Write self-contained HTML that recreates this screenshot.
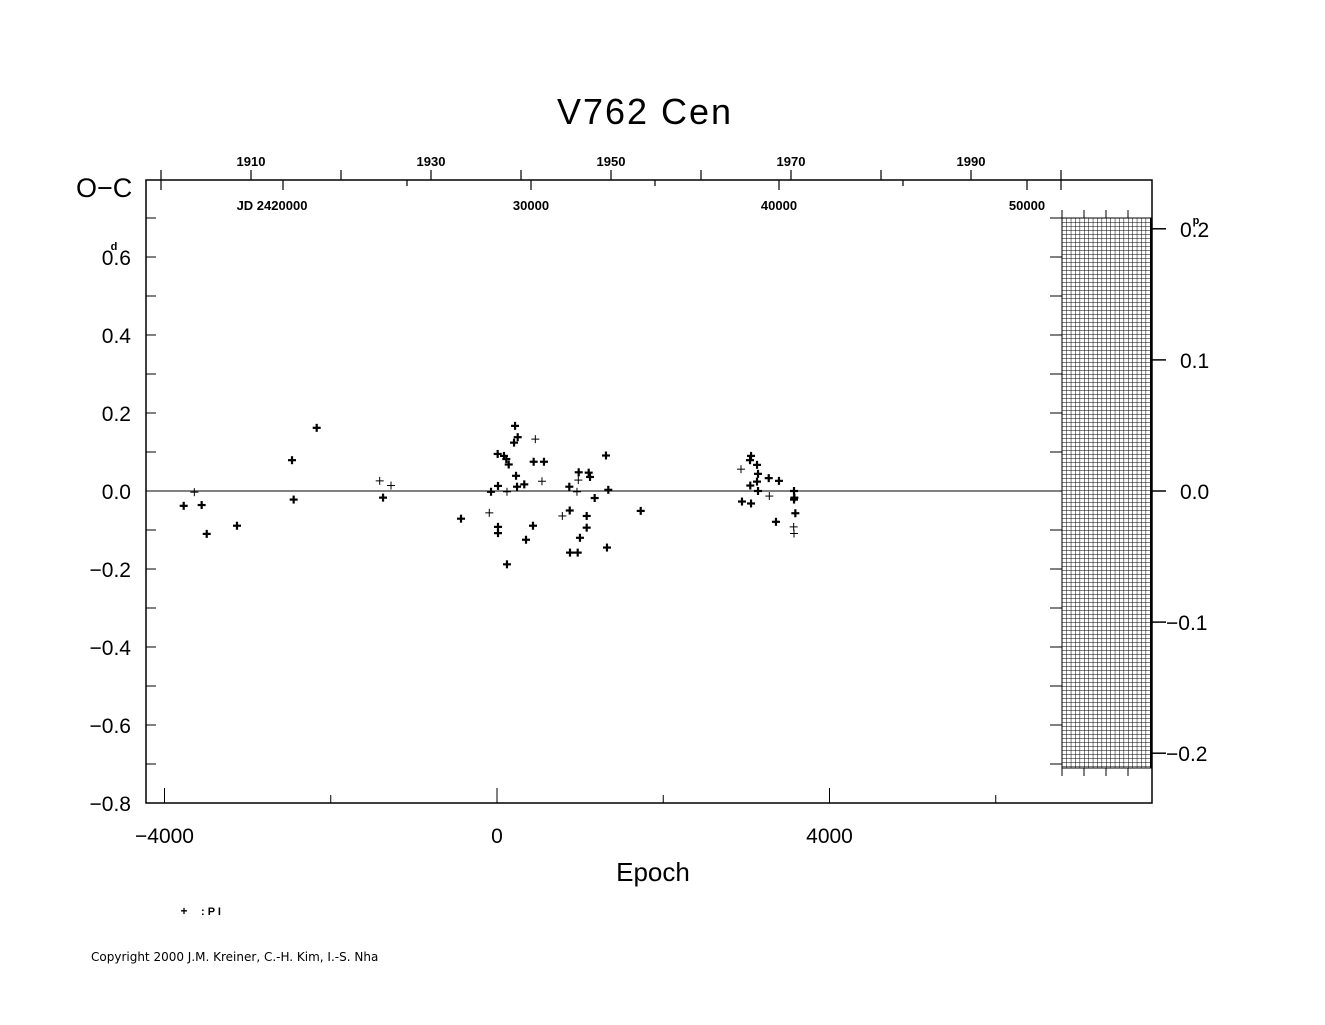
<!DOCTYPE html>
<html><head><meta charset="utf-8"><style>
body{margin:0;background:#fff}
svg text{font-family:"Liberation Sans","DejaVu Sans",sans-serif;fill:#000}
</style></head><body>
<svg id="chart" width="1325" height="1020" xmlns="http://www.w3.org/2000/svg">
<defs>
<pattern id="hatch" width="4.4" height="4" patternUnits="userSpaceOnUse" x="1062" y="218">
<path d="M0 0V4M0 0H4.4" stroke="#000" stroke-width="1" fill="none"/>
</pattern>
</defs>
<text x="645" y="124" font-size="36" text-anchor="middle" letter-spacing="2">V762  Cen</text>
<text x="76" y="197" font-size="27">O−C</text>
<text x="653" y="881" font-size="26" text-anchor="middle">Epoch</text>
<rect x="146" y="180" width="1006" height="623" fill="none" stroke="#000" stroke-width="1.5"/>
<rect x="1062" y="218" width="89" height="550" fill="url(#hatch)" stroke="#000" stroke-width="1"/>
<g id="axes"></g>
<g id="points"></g>
<text x="184" y="915" font-size="12" font-weight="bold" text-anchor="middle">+</text>
<text x="201" y="915" font-size="11" font-weight="bold">: P I</text>
<text x="91" y="961" font-size="12" fill="#444" style="font-family:'DejaVu Sans',sans-serif">Copyright 2000 J.M. Kreiner, C.-H. Kim, I.-S. Nha</text>
</svg>
<script>
const epochs=[-3769,-3553,-3641,-3492,-3128,-2466,-2169,-2446,-1411,-1275,-1371,-433,-93,-72,12,12,12,120,120,217,249,205,8,84,112,141,229,241,328,461,441,565,541,433,349,870,962,978,983,1103,1119,1311,1339,1175,875,786,1079,1079,998,878,971,1323,1729,3056,3044,3128,2935,3140,3128,3269,3392,3047,3140,3276,2947,3056,3573,3577,3573,3589,3356,3569,3573];
const ocValues=[-0.038,-0.036,-0.003,-0.110,-0.089,0.079,0.162,-0.022,0.026,0.014,-0.017,-0.071,-0.056,-0.002,0.013,-0.092,-0.108,-0.002,-0.188,0.167,0.138,0.124,0.095,0.090,0.082,0.068,0.039,0.011,0.017,0.133,0.075,0.075,0.025,-0.089,-0.125,0.011,-0.002,0.028,0.048,0.047,0.036,0.091,0.003,-0.018,-0.050,-0.064,-0.064,-0.094,-0.120,-0.158,-0.158,-0.145,-0.051,0.090,0.079,0.067,0.056,0.044,0.024,0.033,0.026,0.014,0.000,-0.013,-0.027,-0.032,0.000,-0.017,-0.022,-0.057,-0.079,-0.092,-0.109];
const thin=[0,0,1,0,0,0,0,0,1,1,0,0,1,0,0,0,0,1,0,0,0,0,0,0,0,0,0,0,0,1,0,0,1,0,0,0,1,1,0,0,0,0,0,0,0,1,0,0,0,0,0,0,0,0,0,0,1,0,0,0,0,0,0,1,0,0,0,0,0,0,0,1,1];
const leftTicks=[0.6,0.4,0.2,0.0,-0.2,-0.4,-0.6,-0.8];
const rightTicks=[0.2,0.1,0.0,-0.1,-0.2];
const epochTicks=[-4000,0,4000];
const yearTicks=[1910,1930,1950,1970,1990];
const jdTicks=[30000,40000,50000];
const NS="http://www.w3.org/2000/svg";
const X=e=>497+e*0.083125;
const Y=v=>491-v*390;
const YR=p=>491-p*1311;
const YEARX=y=>251+(y-1910)*9;
const JDX=j=>531+(j-30000)*0.0248;
const ax=document.getElementById('axes'),pg=document.getElementById('points');
function ln(g,x1,y1,x2,y2,w,name){const l=document.createElementNS(NS,'line');l.setAttribute('x1',x1);l.setAttribute('y1',y1);l.setAttribute('x2',x2);l.setAttribute('y2',y2);l.setAttribute('stroke','#000');l.setAttribute('stroke-width',w);


g.appendChild(l);return l;}
function tx(x,y,s,size,anchor,name,bold){const t=document.createElementNS(NS,'text');t.setAttribute('x',x);t.setAttribute('y',y);t.setAttribute('font-size',size);t.setAttribute('text-anchor',anchor);if(bold)t.setAttribute('font-weight','bold');t.textContent=s;


ax.appendChild(t);return t;}
ln(ax,146,Y(0),1062,Y(0),1,'zero-line');
for(let v=-0.7;v<=0.71;v+=0.1){ln(ax,146,Y(v),156,Y(v),1,'left-tick');ln(ax,1050,Y(v),1062,Y(v),1,'inner-right-tick');}
[1062,1084,1106,1128].forEach(x=>{ln(ax,x,210,x,218,1,'hatch-top-tick');ln(ax,x,768,x,776,1,'hatch-bottom-tick');});
leftTicks.forEach(v=>{const s=(v<0?'−':'')+Math.abs(v).toFixed(1);tx(131,Y(v)+8,s,21,'end','left-tick-label');});
tx(114,250,'d',11,'middle','left-unit-d',true);
rightTicks.forEach(p=>{ln(ax,1152,YR(p),1166,YR(p),1.5,'right-tick');const s=(p<0?'−':'')+Math.abs(p).toFixed(1);tx(p<0?1166:1180,YR(p)+8,s,21,'start','right-tick-label');});
tx(1196,224,'p',11,'middle','right-unit-p',true);
[-4000,-2000,0,2000,4000,6000].forEach(e=>ln(ax,X(e),803,X(e),e%4000===0?788:795,1,'bottom-tick'));
epochTicks.forEach(e=>tx(X(e),843,(e<0?'−':'')+Math.abs(e),21,'middle','epoch-tick-label'));
for(let y=1900;y<=2000;y+=10){ln(ax,YEARX(y),170,YEARX(y),(y===1900||y===2000)?190:180,1.2,'year-tick');}
yearTicks.forEach(y=>tx(YEARX(y),166,String(y),13,'middle','year-tick-label',true));
for(let j=20000;j<=50000;j+=5000){ln(ax,JDX(j),180,JDX(j),j%10000===0?190:186,1.2,'jd-tick');}
tx(272,210,'JD  2420000',13,'middle','jd-label-base',true);
jdTicks.forEach(j=>tx(JDX(j),210,String(j),13,'middle','jd-tick-label',true));
epochs.forEach((e,i)=>{const x=X(e),y=Y(ocValues[i]),w=thin[i]?1:2.2,s=4;
const g=document.createElementNS(NS,'g');


ln(g,x-s,y,x+s,y,w,'point-h');ln(g,x,y-s,x,y+s,w,'point-v');pg.appendChild(g);});
</script>
</body></html>
